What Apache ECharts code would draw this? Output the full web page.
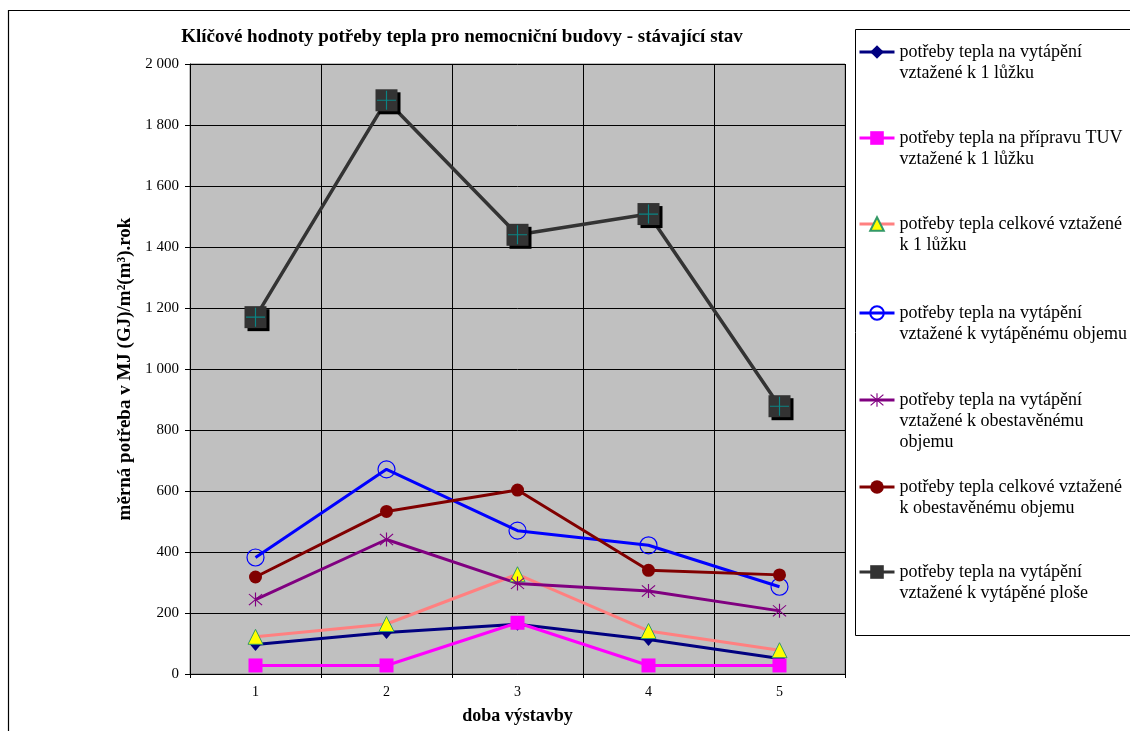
<!DOCTYPE html>
<html>
<head>
<meta charset="utf-8">
<script src="https://cdn.jsdelivr.net/npm/echarts@6/dist/echarts.min.js"></script>
<style>
  html, body { margin: 0; padding: 0; background: #ffffff; }
  #chart { width: 1130px; height: 731px; }
</style>
</head>
<body>
<div id="chart"></div>
<script>
// Construction periods (x axis)
const periods = ['1', '2', '3', '4', '5'];

// Specific heat demand per series, MJ (GJ)/m2 (m3) per year
const heatingPerBed       = [97, 136, 163, 113, 51];
const hotWaterPerBed      = [28, 28, 168, 28, 28];
const totalPerBed         = [122, 164, 327, 141, 78];
const heatingPerHeatedVol = [382, 671, 470, 422, 286];
const heatingPerBuiltVol  = [244, 441, 297, 272, 207];
const totalPerBuiltVol    = [318, 533, 603, 340, 325];
const heatingPerArea      = [1170, 1881, 1440, 1508, 878];

// Series names as shown in the legend
const names = [
  'potřeby tepla na vytápění\nvztažené k 1 lůžku',
  'potřeby tepla na přípravu TUV\nvztažené k 1 lůžku',
  'potřeby tepla celkové vztažené\nk 1 lůžku',
  'potřeby tepla na vytápění\nvztažené k vytápěnému objemu',
  'potřeby tepla na vytápění\nvztažené k obestavěnému\nobjemu',
  'potřeby tepla celkové vztažené\nk obestavěnému objemu',
  'potřeby tepla na vytápění\nvztažené k vytápěné ploše'
];

const FONT = 'Liberation Serif';
const starPath = 'path://M9.3,0H10.7V20H9.3Z M1.5,2.5L2.5,1.5L18.5,17.5L17.5,18.5Z M17.5,1.5L18.5,2.5L2.5,18.5L1.5,17.5Z';
const plusPath = 'path://M0,9.4H20V10.6H0Z M9.4,0H10.6V20H9.4Z';

// One legend block per series so each entry sits on its own row;
// the marker lines up with the first text line of the entry.
const legendRowCenters = [52, 138, 224, 313, 400, 487, 572];
const LINE_H = 21;
const legends = names.map(function (n, i) {
  const lines = n.split('\n').length;
  const lead = new Array(lines).join('\n');   // (lines - 1) blank lines above the text
  return {
    data: [n],
    orient: 'vertical',
    left: 858,
    top: legendRowCenters[i] - ((2 * lines - 1) * LINE_H) / 2,
    padding: 0,
    itemWidth: 35,
    itemHeight: 17,
    itemGap: 0,
    selectedMode: false,
    formatter: function (name) { return lead + name; },
    lineStyle: { width: 3 },
    textStyle: { fontFamily: FONT, fontSize: 18, color: '#000', lineHeight: LINE_H }
  };
});

function thousands(v) {
  return String(v).replace(/\B(?=(\d{3})+(?!\d))/g, ' ');
}

const chart = echarts.init(document.getElementById('chart'), null, { renderer: 'canvas' });

chart.setOption({
  animation: false,
  backgroundColor: '#ffffff',
  title: {
    text: 'Klíčové hodnoty potřeby tepla pro nemocniční budovy - stávající stav',
    left: 457, top: 23, textAlign: 'center',
    textStyle: { fontFamily: FONT, fontSize: 19, fontWeight: 'bold', color: '#000' }
  },
  graphic: [
    {
      type: 'rect', silent: true, z: -1,
      shape: { x: 8.5, y: 10.5, width: 1300, height: 900 },
      style: { fill: 'none', stroke: '#000', lineWidth: 1.2 }
    },
    {
      type: 'rect', silent: true, z: -1,
      shape: { x: 855.5, y: 29.5, width: 400, height: 606 },
      style: { fill: '#fff', stroke: '#000', lineWidth: 1 }
    }
  ],
  legend: legends,
  grid: {
    left: 190, right: 285, top: 64, bottom: 57,
    show: true, backgroundColor: '#C0C0C0', borderColor: '#808080', borderWidth: 1
  },
  xAxis: {
    type: 'category',
    data: periods,
    boundaryGap: true,
    name: 'doba výstavby',
    nameLocation: 'middle',
    nameGap: 33,
    nameTextStyle: { fontFamily: FONT, fontSize: 18, fontWeight: 'bold', color: '#000' },
    axisLine: { lineStyle: { color: '#000', width: 1 } },
    axisTick: { show: true, length: 4, lineStyle: { color: '#000' } },
    axisLabel: { fontFamily: FONT, fontSize: 14, color: '#000', margin: 11 },
    splitLine: { show: true, lineStyle: { color: '#000', width: 1 } }
  },
  yAxis: {
    type: 'value',
    min: 0, max: 2000, interval: 200,
    name: 'měrná potřeba v MJ (GJ)/m²(m³).rok',
    nameLocation: 'middle',
    nameGap: 55,
    nameRotate: 90,
    nameTextStyle: { fontFamily: FONT, fontSize: 19, fontWeight: 'bold', color: '#000' },
    axisLine: { show: true, lineStyle: { color: '#000', width: 1 } },
    axisTick: { show: true, length: 5, lineStyle: { color: '#000' } },
    axisLabel: { fontFamily: FONT, fontSize: 15, color: '#000', margin: 11, formatter: thousands },
    splitLine: { show: true, lineStyle: { color: '#000', width: 1 } }
  },
  series: [
    {
      name: names[0], type: 'line', data: heatingPerBed,
      symbol: 'diamond', symbolSize: [11, 13],
      lineStyle: { color: '#000080', width: 3 },
      itemStyle: { color: '#000080' }
    },
    {
      name: names[1], type: 'line', data: hotWaterPerBed,
      symbol: 'rect', symbolSize: 14,
      lineStyle: { color: '#FF00FF', width: 3 },
      itemStyle: { color: '#FF00FF' }
    },
    {
      name: names[2], type: 'line', data: totalPerBed,
      symbol: 'triangle', symbolSize: [15, 15],
      lineStyle: { color: '#FF8080', width: 3 },
      itemStyle: { color: '#FFFF00', borderColor: '#339966', borderWidth: 1 }
    },
    {
      name: names[3], type: 'line', data: heatingPerHeatedVol,
      symbol: 'circle', symbolSize: 17,
      lineStyle: { color: '#0000FF', width: 3 },
      itemStyle: { color: 'rgba(0,0,0,0)', borderColor: '#0000FF', borderWidth: 1.2 }
    },
    {
      name: names[4], type: 'line', data: heatingPerBuiltVol,
      symbol: starPath, symbolSize: 14,
      lineStyle: { color: '#800080', width: 3 },
      itemStyle: { color: '#800080' }
    },
    {
      name: names[5], type: 'line', data: totalPerBuiltVol,
      symbol: 'circle', symbolSize: 13,
      lineStyle: { color: '#800000', width: 3 },
      itemStyle: { color: '#800000' }
    },
    {
      name: names[6], type: 'line', data: heatingPerArea,
      symbol: 'rect', symbolSize: 22,
      lineStyle: { color: '#333333', width: 3.5 },
      itemStyle: {
        color: '#333333',
        shadowColor: '#000000', shadowBlur: 0, shadowOffsetX: 3, shadowOffsetY: 3
      }
    },
    {
      // teal cross drawn inside the dark square markers
      name: 'plus', type: 'scatter', data: heatingPerArea,
      symbol: plusPath, symbolSize: 19,
      itemStyle: { color: '#009999' },
      z: 5, silent: true
    }
  ]
});
</script>
</body>
</html>
